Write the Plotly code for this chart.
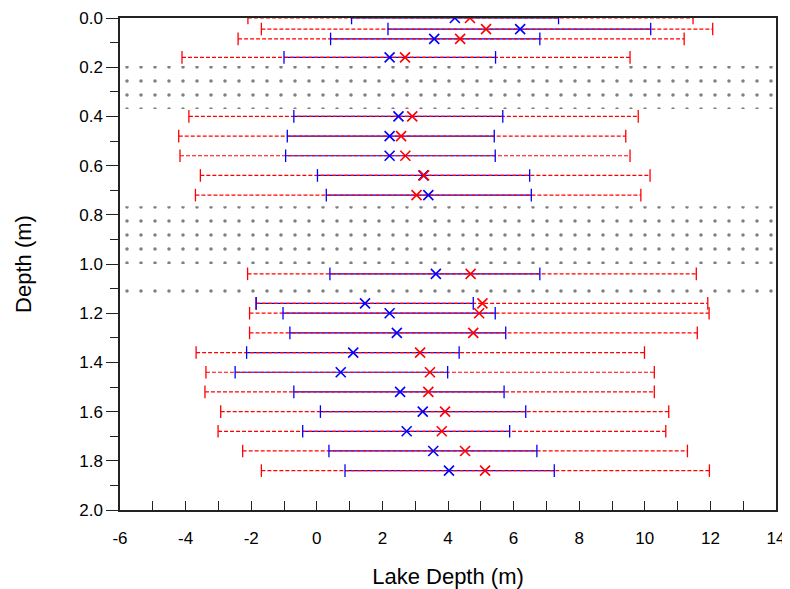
import plotly.graph_objects as go

# ---- data ----
depth = [0.0, 0.045, 0.085, 0.16, 0.40, 0.48, 0.56, 0.64, 0.72, 1.04,
         1.16, 1.20, 1.28, 1.36, 1.44, 1.52, 1.60, 1.68, 1.76, 1.84]

red_center = [4.67, 5.16, 4.37, 2.69, 2.91, 2.57, 2.70, 3.27, 3.04, 4.69,
              5.05, 4.95, 4.77, 3.15, 3.45, 3.40, 3.91, 3.81, 4.52, 5.13]
red_lo = [-2.10, -1.69, -2.40, -4.11, -3.90, -4.21, -4.17, -3.55, -3.70, -2.11,
          -1.85, -2.05, -2.05, -3.68, -3.38, -3.41, -2.93, -3.01, -2.26, -1.69]
red_hi = [11.47, 12.07, 11.20, 9.55, 9.80, 9.42, 9.55, 10.16, 9.88, 11.57,
          11.92, 11.96, 11.60, 9.99, 10.29, 10.29, 10.73, 10.64, 11.30, 11.97]

blue_center = [4.21, 6.20, 3.58, 2.22, 2.49, 2.22, 2.22, 3.25, 3.40, 3.63,
               1.47, 2.22, 2.44, 1.11, 0.73, 2.54, 3.23, 2.74, 3.55, 4.03]
blue_lo = [1.06, 2.17, 0.42, -1.00, -0.70, -0.90, -0.95, 0.02, 0.29, 0.40,
           -1.85, -1.03, -0.82, -2.14, -2.49, -0.70, 0.11, -0.43, 0.37, 0.86]
blue_hi = [7.37, 10.18, 6.80, 5.45, 5.67, 5.41, 5.44, 6.49, 6.54, 6.80,
           4.77, 5.44, 5.76, 4.34, 3.99, 5.71, 6.37, 5.88, 6.71, 7.24]

# dotted (hatched) depth bands
band_top = [0.195, 0.765, 1.075]
band_bottom = [0.37, 1.0, 1.12]

x_tickvals = [-6, -4, -2, 0, 2, 4, 6, 8, 10, 12, 14]
x_ticktext = ["-6", "-4", "-2", "0", "2", "4", "6", "8", "10", "12", "14"]

x_range = [-6, 14]
y_range = [2.0, 0.0]

RED = "#ff0000"
BLUE = "#0000ff"
FONT = "Liberation Sans, Arial, sans-serif"


def segs(lo, hi, d):
    xs, ys = [], []
    for a, b, y in zip(lo, hi, d):
        xs += [a, b, None]
        ys += [y, y, None]
    return xs, ys


fig = go.Figure()

# bands with dot pattern
bx, by = [], []
for t, b in zip(band_top, band_bottom):
    bx += [x_range[0], x_range[1], x_range[1], x_range[0], x_range[0], None]
    by += [t, t, b, b, t, None]
fig.add_trace(go.Scatter(
    x=bx, y=by, mode="lines", fill="toself",
    line=dict(width=0, color="rgba(0,0,0,0)"),
    fillcolor="rgba(0,0,0,0)",
    fillpattern=dict(shape=".", size=14, solidity=0.05,
                     fgcolor="black", bgcolor="rgba(0,0,0,0)"),
    hoverinfo="skip", showlegend=False))

# blue solid ranges
xs, ys = segs(blue_lo, blue_hi, depth)
fig.add_trace(go.Scatter(x=xs, y=ys, mode="lines",
                         line=dict(color=BLUE, width=1.2),
                         showlegend=False, hoverinfo="skip"))
# red dashed ranges
xs, ys = segs(red_lo, red_hi, depth)
fig.add_trace(go.Scatter(x=xs, y=ys, mode="lines",
                         line=dict(color=RED, width=1.2, dash="4px,2px"),
                         showlegend=False, hoverinfo="skip"))

# caps
fig.add_trace(go.Scatter(x=red_lo + red_hi, y=depth + depth, mode="markers",
                         marker=dict(symbol="line-ns", size=9,
                                     line=dict(color=RED, width=1.3)),
                         showlegend=False, hoverinfo="skip"))
fig.add_trace(go.Scatter(x=blue_lo + blue_hi, y=depth + depth, mode="markers",
                         marker=dict(symbol="line-ns", size=9,
                                     line=dict(color=BLUE, width=1.3)),
                         showlegend=False, hoverinfo="skip"))

# centre markers
fig.add_trace(go.Scatter(x=blue_center, y=depth, mode="markers",
                         marker=dict(symbol="x-thin", size=10,
                                     line=dict(color=BLUE, width=1.6)),
                         showlegend=False))
fig.add_trace(go.Scatter(x=red_center, y=depth, mode="markers",
                         marker=dict(symbol="x-thin", size=10,
                                     line=dict(color=RED, width=1.6)),
                         showlegend=False))

# the page body adds an 8px margin; size/margins compensate for it
fig.update_layout(
    width=782, height=581,
    margin=dict(l=112, r=14, t=10, b=79),
    plot_bgcolor="white", paper_bgcolor="white",
    font=dict(family=FONT, size=17, color="black"),
    showlegend=False,
    xaxis=dict(
        range=x_range, tickvals=x_tickvals, ticktext=x_ticktext,
        showgrid=False, zeroline=False, automargin=False,
        showline=True, linecolor="#222", linewidth=1.5, mirror=True,
        ticks="inside", ticklen=9, tickwidth=1.3, tickcolor="#222",
        minor=dict(dtick=1, ticks="inside", ticklen=9, tickwidth=1.3,
                   tickcolor="#222", showgrid=False),
        ticklabelstandoff=12,
        title=dict(text="Lake Depth (m)", font=dict(size=22), standoff=23),
    ),
    yaxis=dict(
        range=y_range, tick0=0, dtick=0.2, tickformat=".1f",
        showgrid=False, zeroline=False, automargin=False,
        showline=True, linecolor="#222", linewidth=1.5, mirror=True,
        ticks="outside", ticklen=12, tickwidth=1.3, tickcolor="#222",
        minor=dict(dtick=0.1, ticks="outside", ticklen=8, tickwidth=1.3,
                   tickcolor="#222", showgrid=False),
        title=dict(text="Depth (m)", font=dict(size=22), standoff=42),
    ),
)

fig.write_html("out.html")
